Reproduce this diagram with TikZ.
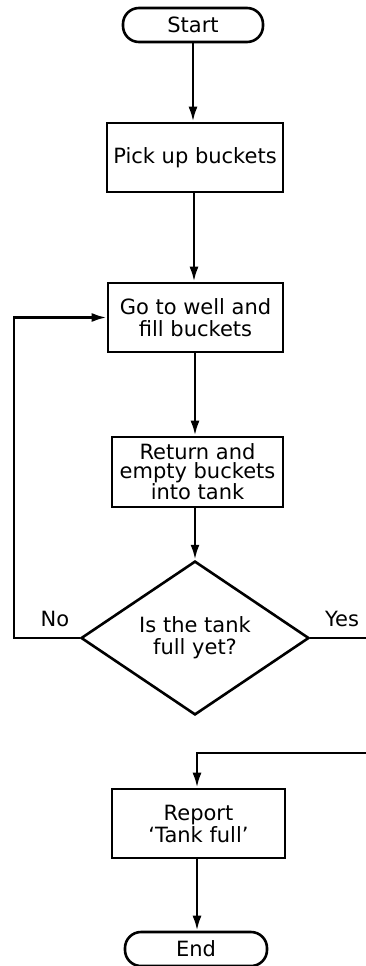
\documentclass[tikz,border=0pt]{standalone}
\usepackage{fontspec}
\setmainfont{DejaVu Sans}
\usetikzlibrary{shapes.geometric,arrows.meta}

\begin{document}
\begin{tikzpicture}[x=1pt,y=-1pt,
  every node/.style={font=\fontsize{21}{22}\selectfont},
  flowline/.style={line width=2.6pt},
  arrowline/.style={flowline,-{Latex[length=15pt,width=9pt]}},
  terminal/.style={draw, line width=2.6pt, rounded corners=16pt,
    minimum width=140pt, minimum height=34pt, inner sep=0pt},
  process/.style={draw, line width=2.6pt, align=center, inner sep=0pt},
  decision/.style={draw, diamond, line width=2.6pt, align=center,
    minimum width=228pt, minimum height=153pt, inner sep=0pt}
]
\useasboundingbox (0,0) rectangle (366,966);

% main chain of steps
\node[terminal] (start) at (193,25) {Start};
\node[process, minimum width=176pt, minimum height=69pt] (pick) at (195,157.5) {Pick up buckets};
\node[process, minimum width=175pt, minimum height=69pt] (well) at (195.5,317.5) {Go to well and\\fill buckets};
\node[process, minimum width=171pt, minimum height=70pt,
  font=\fontsize{21}{19}\selectfont] (ret) at (197.5,472) {Return and\\empty buckets\\into tank};
\node[decision] (dec) at (195,638) {Is the tank\\full yet?};
\node[process, minimum width=173pt, minimum height=69pt] (report) at (198.5,823.5) {Report\\`Tank full'};
\node[terminal, minimum width=142pt] (end) at (196,949) {End};

% branch labels
\node (nolabel) at (55,619) {No};
\node (yeslabel) at (342,619) {Yes};

% connectors
\draw[arrowline] (start.south) -- (start.south |- pick.north);
\draw[arrowline] (pick.south -| 194,0) -- (194,0 |- well.north);
\draw[arrowline] (well.south -| 195,0) -- (195,0 |- ret.north);
\draw[arrowline] (ret.south -| 195,0) -- (dec.north);

% "No" loop back to the well
\coordinate (loopcorner) at (14,638);
\draw[arrowline] (dec.west) -- (loopcorner) |- (well.west);

% "Yes" runs off the page edge and comes back
\coordinate (yesout) at (366,638);
\draw[flowline] (dec.east) -- (yesout);
\coordinate (yesin) at (366,753);
\draw[arrowline] (yesin) -- (197,753) -- (197,0 |- report.north);

\draw[arrowline] (report.south -| 197,0) -- (197,0 |- end.north);
\end{tikzpicture}
\end{document}
